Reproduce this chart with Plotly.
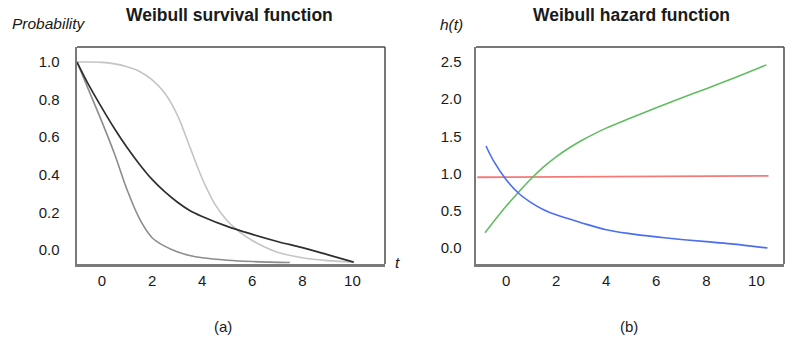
import plotly.graph_objects as go

# ---- data ----
# (a) survival curves
dark_t = [-1.0, -0.5, 0.0, 0.5, 1.0, 1.5, 2.0, 2.5, 3.0, 3.5, 4.0, 5.0, 6.0, 7.0, 8.0, 9.0, 10.05]
dark_v = [1.0, 0.87, 0.755, 0.645, 0.545, 0.455, 0.375, 0.31, 0.255, 0.21, 0.178, 0.125, 0.083, 0.045, 0.012, -0.025, -0.065]

medium_t = [-1.0, -0.5, 0.0, 0.5, 1.0, 1.5, 2.0, 2.5, 3.0, 3.5, 4.0, 5.0, 6.0, 7.5]
medium_v = [1.0, 0.84, 0.68, 0.51, 0.32, 0.165, 0.065, 0.02, -0.01, -0.03, -0.042, -0.055, -0.062, -0.067]

light_t = [-1.0, -0.5, 0.0, 0.5, 1.0, 1.5, 2.0, 2.5, 3.0, 3.5, 4.0, 4.5, 5.0, 5.5, 6.0, 6.5, 7.0, 8.0, 9.0, 10.05]
light_v = [1.0, 1.0, 0.998, 0.99, 0.975, 0.95, 0.905, 0.835, 0.72, 0.55, 0.38, 0.245, 0.155, 0.095, 0.05, 0.015, -0.012, -0.042, -0.057, -0.065]

# (b) hazard curves
blue_t = [-0.8, -0.5, 0.0, 0.5, 1.0, 1.5, 2.0, 3.0, 4.0, 5.0, 6.0, 7.0, 8.0, 9.0, 10.44]
blue_h = [1.37, 1.17, 0.92, 0.735, 0.61, 0.515, 0.445, 0.34, 0.245, 0.19, 0.15, 0.115, 0.085, 0.055, 0.0]

green_t = [-0.84, 0.0, 0.5, 1.0, 1.5, 2.0, 2.5, 3.0, 3.5, 4.0, 5.0, 6.0, 7.0, 8.0, 9.0, 10.4]
green_h = [0.205, 0.56, 0.75, 0.93, 1.09, 1.225, 1.34, 1.44, 1.53, 1.61, 1.75, 1.885, 2.015, 2.14, 2.27, 2.46]

red_t = [-1.15, 10.48]
red_h = [0.95, 0.97]

x_ticks = [0, 2, 4, 6, 8, 10]
surv_ticks = [0.0, 0.2, 0.4, 0.6, 0.8, 1.0]
haz_ticks = [0.0, 0.5, 1.0, 1.5, 2.0, 2.5]

W, H = 795, 342
FONT = "Liberation Sans, Arial, Helvetica, sans-serif"

fig = go.Figure()

def line(x, y, color, width, xa, ya, shape="spline"):
    fig.add_trace(go.Scatter(x=x, y=y, mode="lines", xaxis=xa, yaxis=ya,
                             line=dict(color=color, width=width, shape=shape, smoothing=1.0),
                             hoverinfo="skip", showlegend=False))

line(light_t, light_v, "#c4c4c4", 1.6, "x", "y")
line(medium_t, medium_v, "#8c8c8c", 1.6, "x", "y")
line(dark_t, dark_v, "#2e2e2e", 1.7, "x", "y")

line(red_t, red_h, "#f47a7a", 1.8, "x2", "y2", shape="linear")
line(green_t, green_h, "#62bd62", 1.6, "x2", "y2")
line(blue_t, blue_h, "#4b6ef0", 1.6, "x2", "y2")

x0L, x1L = 77 / W, 385 / W
x0R, x1R = 476 / W, 784 / W
y0, y1 = 1 - 264 / H, 1 - 47 / H

axis_common = dict(showgrid=False, zeroline=False, showline=True, linecolor="#7a7a7a",
                   linewidth=2.5, ticks="", tickfont=dict(family=FONT, size=15, color="#1a1a1a"),
                   fixedrange=True)

fig.update_layout(
    width=W, height=H,
    margin=dict(l=0, r=0, t=0, b=0),
    paper_bgcolor="white", plot_bgcolor="white",
    hovermode=False,
    xaxis=dict(domain=[x0L, x1L], range=[-1.0, 11.3], tickvals=x_ticks,
               ticklabelstandoff=1, anchor="y", **axis_common),
    yaxis=dict(domain=[y0, y1], range=[-0.075, 1.08], tickvals=surv_ticks,
               tickformat=".1f", ticklabelstandoff=12, anchor="x", **axis_common),
    xaxis2=dict(domain=[x0R, x1R], range=[-1.2, 11.1], tickvals=x_ticks,
                ticklabelstandoff=1, anchor="y2", **axis_common),
    yaxis2=dict(domain=[y0, y1], range=[-0.215, 2.70], tickvals=haz_ticks,
                tickformat=".1f", ticklabelstandoff=9, anchor="x2", **axis_common),
)

# top and right box edges
for xr, yr in (("x domain", "y domain"), ("x2 domain", "y2 domain")):
    fig.add_shape(type="line", xref=xr, yref=yr, x0=0, x1=1, y0=1, y1=1,
                  line=dict(color="#4a4a4a", width=1.5))
    fig.add_shape(type="line", xref=xr, yref=yr, x0=1, x1=1, y0=0, y1=1,
                  line=dict(color="#4a4a4a", width=1.5))

def ann(text, px, py, size, bold=False, italic=False):
    fig.add_annotation(text=text, x=px / W, y=1 - py / H, xref="paper", yref="paper",
                       xanchor="center", yanchor="middle", showarrow=False,
                       font=dict(family=FONT, size=size, color="#1a1a1a",
                                 weight="bold" if bold else "normal",
                                 style="italic" if italic else "normal"))

ann("Weibull survival function", 229, 15, 17.5, bold=True)
ann("Weibull hazard function", 631, 15, 17.5, bold=True)
ann("Probability", 48.5, 23, 15.5, italic=True)
ann("h(t)", 451.5, 24, 15.5, italic=True)
ann("t", 397, 262, 15.5, italic=True)
ann("(a)", 222.5, 326, 15)
ann("(b)", 629, 326, 15)

fig.write_html("out.html",
               config={"displayModeBar": False, "staticPlot": True},
               post_script="document.body.style.margin='0px';document.body.style.overflow='hidden';")
